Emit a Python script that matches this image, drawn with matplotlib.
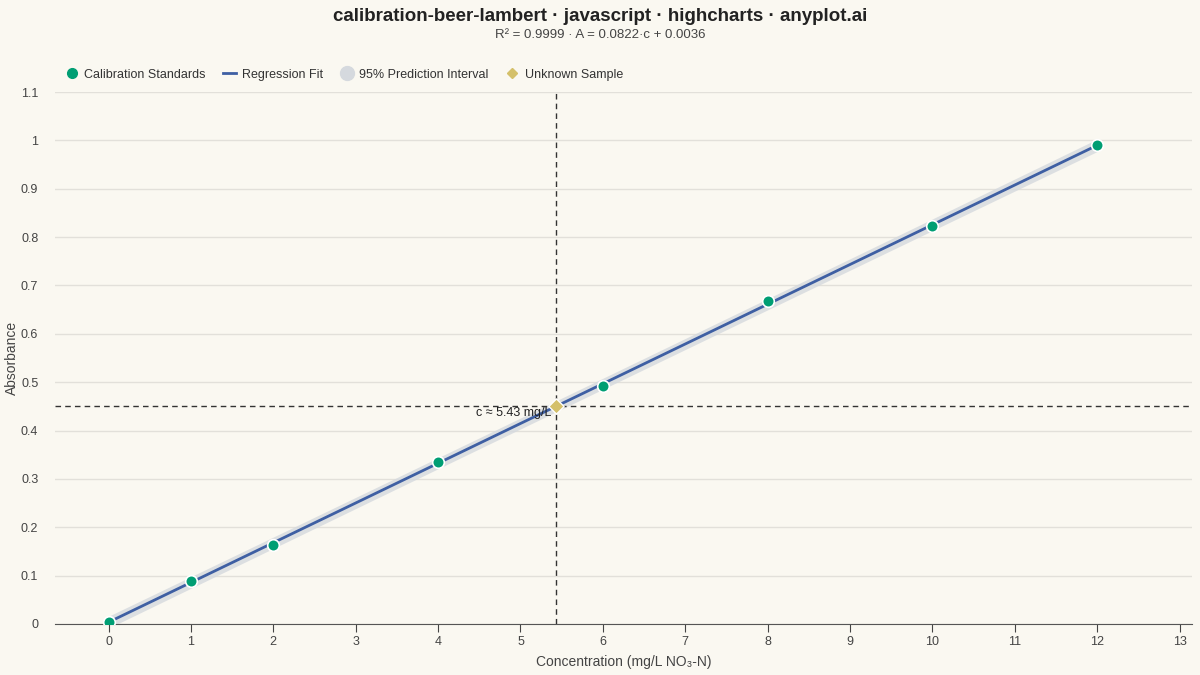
import numpy as np
import matplotlib
matplotlib.use("Agg")
import matplotlib.pyplot as plt
from matplotlib.lines import Line2D

# calibration standards
conc = [0, 1, 2, 4, 6, 8, 10, 12]
absorb = [0.005, 0.089, 0.163, 0.335, 0.492, 0.667, 0.822, 0.991]
unknown_c = 5.43
unknown_a = 0.45
slope, intercept = 0.0822, 0.0036

plt.rcParams['font.family'] = ['Liberation Sans', 'DejaVu Sans']
bg = '#faf8f1'
fig = plt.figure(figsize=(12, 6.75), dpi=100, facecolor=bg)
ax = fig.add_axes([0.0458, 0.0756, 0.9475, 0.788], facecolor=bg)

x = np.array(conc, float)
y = np.array(absorb)
n = len(x)
resid = y - (slope * x + intercept)
s = np.sqrt(np.sum(resid ** 2) / (n - 2))
xs = np.linspace(0, 12, 200)
fit = slope * xs + intercept
half = 2.447 * s * np.sqrt(1 + 1 / n + (xs - x.mean()) ** 2 / np.sum((x - x.mean()) ** 2))
half = np.maximum(half, 0.011)
ax.fill_between(xs, fit - half, fit + half, color='#d5d9de', alpha=0.8, lw=0, zorder=2)
ax.plot(xs, fit, color='#3e5fa3', lw=2, zorder=3)
ax.scatter(conc, absorb, s=70, color='#009e73', edgecolor='white', lw=1.2, zorder=5)
ax.axvline(unknown_c, color='#333333', ls=(0, (4, 3)), lw=1, zorder=4)
ax.axhline(unknown_a, color='#333333', ls=(0, (4, 3)), lw=1, zorder=4)
ax.scatter([unknown_c], [unknown_a], marker='D', s=60, color='#d4c06a', edgecolor='white', lw=1, zorder=6)
ax.text(unknown_c - 0.05, unknown_a - 0.002, 'c ≈ 5.43 mg/L', ha='right', va='top', fontsize=9, color='#222222', zorder=7)

ax.set_xlim(-0.65, 13.15)
ax.set_ylim(0, 1.1)
ax.set_xticks(range(0, 14))
ax.set_yticks(np.arange(0, 1.11, 0.1))
ax.set_yticklabels(['0', '0.1', '0.2', '0.3', '0.4', '0.5', '0.6', '0.7', '0.8', '0.9', '1', '1.1'])
ax.grid(axis='y', color='#e2e0da', lw=1)
ax.set_axisbelow(True)
for sp in ['top', 'right', 'left']:
    ax.spines[sp].set_visible(False)
ax.spines['bottom'].set_color('#555555')
ax.tick_params(axis='y', length=0, labelsize=9, colors='#444444', pad=12)
ax.tick_params(axis='x', length=6, labelsize=9, colors='#444444', direction='out', pad=3)
ax.set_xlabel('Concentration (mg/L NO₃-N)', fontsize=10, color='#444444', labelpad=5)
ax.set_ylabel('Absorbance', fontsize=10, color='#444444')
ax.yaxis.set_label_coords(-0.032, 0.5)

fig.text(0.5, 0.988, 'calibration-beer-lambert · javascript · highcharts · anyplot.ai', ha='center', va='top',
         fontsize=13.5, fontweight='bold', color='#222222')
fig.text(0.5, 0.957, 'R² = 0.9999 · A = 0.0822·c + 0.0036', ha='center', va='top', fontsize=9.5, color='#444444')

handles = [
    Line2D([], [], marker='o', ls='', color='#009e73', markersize=7),
    Line2D([], [], color='#3e5fa3', lw=2),
    Line2D([], [], marker='o', ls='', color='#d5d9de', markersize=10),
    Line2D([], [], marker='D', ls='', color='#d4c06a', markersize=5.5),
]
labels = ['Calibration Standards', 'Regression Fit', '95% Prediction Interval', 'Unknown Sample']
fig.legend(handles, labels, loc='upper left', bbox_to_anchor=(0.045, 0.915), ncol=4, frameon=False,
           fontsize=9, handlelength=1.0, handletextpad=0.5, columnspacing=1.4, labelcolor='#333333')

fig.savefig('out.png', facecolor=bg)
